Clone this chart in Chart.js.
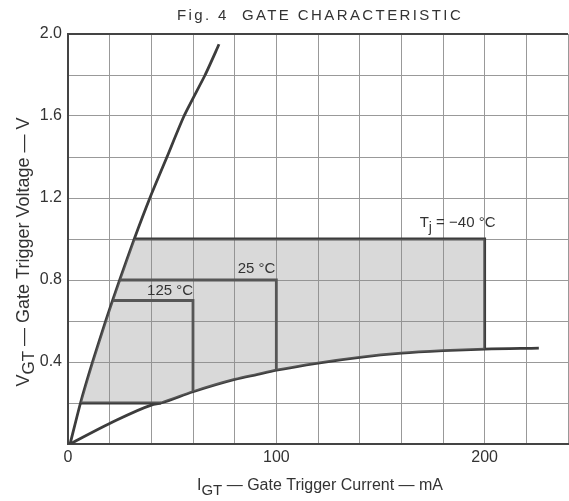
<!DOCTYPE html>
<html>
<head>
<meta charset="utf-8">
<script src="https://cdn.jsdelivr.net/npm/chart.js@4.4.1/dist/chart.umd.min.js"></script>
<style>
  html, body { margin: 0; padding: 0; background: #fff; overflow: hidden; }
  #wrap { width: 572px; height: 501px; }
</style>
</head>
<body>
<div id="wrap"><canvas id="grafico" width="572" height="501"></canvas></div>
<script>
// curva de tensão máxima (lado esquerdo, íngreme)
const steepX = [1, 6.0, 11.8, 18.1, 21.4, 24.8, 31.8, 39.3, 47.5, 55.7, 65.8, 72.5];
const steepY = [0, 0.2, 0.4, 0.6, 0.7, 0.8, 1.0, 1.2, 1.4, 1.6, 1.8, 1.95];

// curva de baixo (limite de potência)
const lowX = [1, 20, 40, 44.6, 60, 80, 91, 100, 120, 140, 160, 180, 200, 226];
const lowY = [0, 0.10, 0.19, 0.2, 0.255, 0.315, 0.34, 0.36, 0.395, 0.423, 0.443, 0.455, 0.463, 0.468];

// região sombreada
const shadeX = [6.0, 11.8, 18.1, 21.4, 24.8, 31.8, 200, 200, 180, 160, 140, 120, 100, 91, 80, 60, 44.6, 6.0];
const shadeY = [0.2, 0.4, 0.6, 0.7, 0.8, 1.0, 1.0, 0.463, 0.455, 0.443, 0.423, 0.395, 0.36, 0.34, 0.315, 0.255, 0.2, 0.2];

// caixas por temperatura: -40, 25, 125 °C e a linha de 0.2 V
const box40X = [31.8, 200, 200];
const box40Y = [1.0, 1.0, 0.463];
const box25X = [24.8, 100, 100];
const box25Y = [0.8, 0.8, 0.36];
const box125X = [21.4, 60, 60];
const box125Y = [0.7, 0.7, 0.255];
const baseX = [6.0, 44.6];
const baseY = [0.2, 0.2];

const xTickLabels = [0, 100, 200];
const yTickLabels = [0.4, 0.8, 1.2, 1.6, 2.0];

function pts(xs, ys) {
    return xs.map((x, i) => ({ x: x, y: ys[i] }));
}

const corLinha = '#3c3c3c';
const corTexto = '#333';
const fonte = '"Liberation Sans", Arial, sans-serif';

function linha(xs, ys, modo) {
    return {
        data: pts(xs, ys),
        showLine: true,
        borderColor: corLinha,
        borderWidth: 2.8,
        pointRadius: 0,
        cubicInterpolationMode: modo === 'monotone' ? 'monotone' : 'default',
        tension: modo === 'suave' ? 0.2 : 0,
        fill: false
    };
}

// desenha texto com subscrito
function textoRico(ctx, partes, x, y, size) {
    let total = 0;
    partes.forEach(p => {
        ctx.font = (p.sub ? size - 1 : size) + 'px ' + fonte;
        total += ctx.measureText(p.t).width;
    });
    let cx = x - total / 2;
    partes.forEach(p => {
        ctx.font = (p.sub ? size - 1 : size) + 'px ' + fonte;
        ctx.fillText(p.t, cx, p.sub ? y + 5 : y);
        cx += ctx.measureText(p.t).width;
    });
}

const rotulos = {
    id: 'rotulos',
    afterDatasetsDraw(chart) {
        const ctx = chart.ctx;
        const sx = chart.scales.x, sy = chart.scales.y;
        ctx.save();
        ctx.fillStyle = corTexto;
        ctx.textBaseline = 'middle';
        ctx.textAlign = 'left';

        textoRico(ctx, [{ t: '125 °C' }], sx.getPixelForValue(49), sy.getPixelForValue(0.746), 15);
        textoRico(ctx, [{ t: '25 °C' }], sx.getPixelForValue(90.5), sy.getPixelForValue(0.854), 15);
        textoRico(ctx, [{ t: 'T' }, { t: 'j', sub: true }, { t: ' = −40 °C' }], sx.getPixelForValue(187), sy.getPixelForValue(1.078), 15);

        // título
        ctx.letterSpacing = '2.4px';
        ctx.font = '15px ' + fonte;
        ctx.textAlign = 'center';
        ctx.fillText('Fig. 4  GATE CHARACTERISTIC', 320, 16);
        ctx.letterSpacing = '0px';
        ctx.textAlign = 'left';

        // eixo x
        textoRico(ctx, [{ t: 'I' }, { t: 'GT', sub: true }, { t: ' — Gate Trigger Current — mA' }], 320, 486, 16);

        // eixo y
        ctx.translate(24, 252);
        ctx.rotate(-Math.PI / 2);
        textoRico(ctx, [{ t: 'V' }, { t: 'GT', sub: true }, { t: ' — Gate Trigger Voltage — V' }], 0, 0, 18);
        ctx.restore();
    }
};

const ctxGrafico = document.getElementById('grafico');

new Chart(ctxGrafico, {
    type: 'scatter',
    data: {
        datasets: [
            {
                data: pts(shadeX, shadeY),
                showLine: true,
                borderWidth: 0,
                borderColor: 'rgba(0,0,0,0)',
                backgroundColor: 'rgba(140, 140, 140, 0.33)',
                pointRadius: 0,
                tension: 0,
                fill: 'shape'
            },
            linha(steepX, steepY, 'suave'),
            linha(lowX, lowY, 'monotone'),
            linha(box40X, box40Y, 'reta'),
            linha(box25X, box25Y, 'reta'),
            linha(box125X, box125Y, 'reta'),
            linha(baseX, baseY, 'reta')
        ]
    },
    options: {
        responsive: false,
        animation: false,
        layout: { padding: { top: 34, right: 0, left: 0, bottom: 0 } },
        plugins: {
            legend: { display: false },
            tooltip: { enabled: false }
        },
        scales: {
            x: {
                type: 'linear',
                min: 0,
                max: 240,
                afterFit: s => { s.height = 57; },
                ticks: {
                    stepSize: 20,
                    autoSkip: false,
                    maxRotation: 0,
                    padding: 4,
                    color: corTexto,
                    font: { family: fonte, size: 16 },
                    callback: v => xTickLabels.includes(v) ? String(v) : ''
                },
                grid: { color: '#999', lineWidth: 1, drawTicks: false },
                border: { color: '#444', width: 2 }
            },
            y: {
                type: 'linear',
                min: 0,
                max: 2.0,
                afterFit: s => { s.width = 68; },
                ticks: {
                    stepSize: 0.2,
                    autoSkip: false,
                    padding: 6,
                    color: corTexto,
                    font: { family: fonte, size: 16 },
                    callback: v => yTickLabels.some(t => Math.abs(t - v) < 1e-6) ? v.toFixed(1) : ''
                },
                grid: {
                    color: c => (c.tick && Math.abs(c.tick.value - 2) < 1e-6) ? '#444' : '#999',
                    lineWidth: c => (c.tick && Math.abs(c.tick.value - 2) < 1e-6) ? 2 : 1,
                    drawTicks: false
                },
                border: { color: '#444', width: 2 }
            }
        }
    },
    plugins: [rotulos]
});
</script>
</body>
</html>
